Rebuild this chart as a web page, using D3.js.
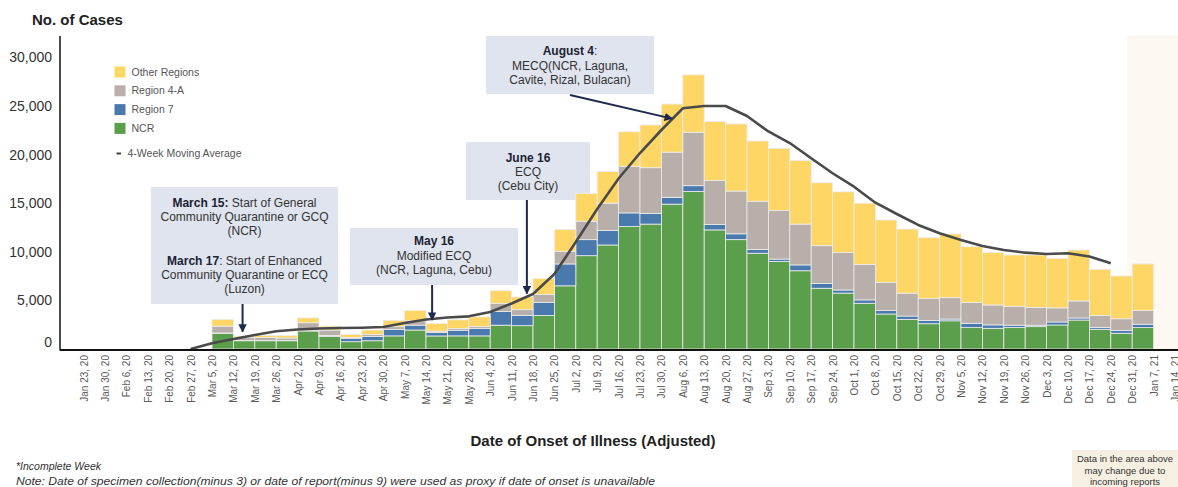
<!DOCTYPE html>
<html lang="en">
<head>
<meta charset="UTF-8">
<title>Cases by Date of Onset of Illness</title>
<script src="https://d3js.org/d3.v7.min.js"></script>
<style>
    body {
        margin: 0;
        background: #fff;
        font-family: Arial, "Liberation Sans", sans-serif;
    }
    svg { display: block; }
</style>
</head>
<body>
<div id="chart"></div>
<script>
// week labels (one per weekly bin, bar ends at its label)
const weeks = ["Jan 23, 20","Jan 30, 20","Feb 6, 20","Feb 13, 20","Feb 20, 20","Feb 27, 20","Mar 5, 20","Mar 12, 20",
    "Mar 19, 20","Mar 26, 20","Apr 2, 20","Apr 9, 20","Apr 16, 20","Apr 23, 20","Apr 30, 20","May 7, 20","May 14, 20",
    "May 21, 20","May 28, 20","Jun 4, 20","Jun 11, 20","Jun 18, 20","Jun 25, 20","Jul 2, 20","Jul 9, 20","Jul 16, 20",
    "Jul 23, 20","Jul 30, 20","Aug 6, 20","Aug 13, 20","Aug 20, 20","Aug 27, 20","Sep 3, 20","Sep 10, 20","Sep 17, 20",
    "Sep 24, 20","Oct 1, 20","Oct 8, 20","Oct 15, 20","Oct 22, 20","Oct 29, 20","Nov 5, 20","Nov 12, 20","Nov 19, 20",
    "Nov 26, 20","Dec 3, 20","Dec 10, 20","Dec 17, 20","Dec 24, 20","Dec 31, 20","Jan 7, 21","Jan 14, 21"];

const ncr = [0,0,0,0,0,0,0,1600, 850,850,850,1850,1300,750,850,1350,1950, 1340,1350,1350,2450,2400,3450,6500,9600,10700,
    12600,12850,14900,16200,12250,11250,9850,9000,8050, 6250,5750,4700,3600,3050,2600,2900,2200,2130,
    2200,2300,2470,2980,2030,1620,2200,0];
const region7 = [0,0,0,0,0,0,0,50, 20,30,30,50,100,350,450,650,500, 350,580,750,1400,1050,1350,2250,1650,1500,
    1400,1100,700,600,550,600,400,250,600, 480,320,350,350,340,340,180,450,350,
    250,150,310,210,200,280,350,0];
const region4a = [0,0,0,0,0,0,0,700, 300,300,250,800,550,100,200,300,450, 150,170,200,850,600,800,1300,1900,2800,
    4800,4700,4650,5500,4550,4400,4950,5000,4200, 3900,3850,3650,2900,2350,2250,2200,2150,2050,
    1950,1830,1450,1750,1220,1210,1400,0];
const otherRegions = [0,0,0,0,0,0,0,700, 150,200,250,500,400,300,450,650,1050, 800,900,1000,1300,1300,1650,2250,2850,3250,
    3550,4400,4950,5900,6050,6900,6200,6400,6550, 6470,6250,6300,6420,6600,6260,6550,5720,5380,
    5270,5390,5100,5245,4750,4400,4795,0];
const movingAvg = [null,null,null,null,null,0,590,1030, 1440,1820,2000,2110,2160,2190,2260,2670,3030, 3240,3360,3800,4680,5660,7720,11000,14400,17540,
    20160,22530,24760,25000,25000,23970,22380,21190,19620, 18080,16700,15050,13890,12760,11900,11210,10600,10190,
    9910,9770,9850,9520,8820,null,null,null];

const yTicks = [0, 5000, 10000, 15000, 20000, 25000, 30000];
const legendNames = ["Other Regions", "Region 4-A", "Region 7", "NCR"];

const W = 1178, H = 487;
const keys = ["ncr", "region7", "region4a", "other"];
const colors = { ncr: "#5b9f4c", region7: "#4a79ae", region4a: "#b8aeaa", other: "#fdd666" };
const legendColors = ["#fdd666", "#b8aeaa", "#4a79ae", "#5b9f4c"];

const svg = d3.select("#chart").append("svg").attr("width", W).attr("height", H)
    .style("font-family", "Arial, 'Liberation Sans', sans-serif");

const x = d3.scalePoint().domain(weeks).range([83.6, 1175]);
const step = x.step();
const y = d3.scaleLinear().domain([0, 32200]).range([349, 36]);
const xDate = (w, days) => x(w) + step * days / 7;

// shaded "incomplete" area at the right
svg.append("rect")
    .attr("x", x("Dec 31, 20") - step * 0.25).attr("y", y.range()[1] - 1)
    .attr("width", W).attr("height", y(0) - y.range()[1] + 1)
    .attr("fill", "#fdf8f1");

// annotation boxes (drawn below the bars)
const notes = [
    { box: [151, 187, 338, 304], lines: [["March 15:", " Start of General", 20], ["", "Community Quarantine or GCQ", 34], ["", "(NCR)", 47.5],
        ["March 17", ": Start of Enhanced", 77.5], ["", "Community Quarantine or ECQ", 92], ["", "(Luzon)", 106]],
      arrow: { from: 304, week: "Mar 12, 20", days: 3, value: 1780 } },
    { box: [350, 228, 518, 285], lines: [["May 16", "", 17], ["", "Modified ECQ", 31.5], ["", "(NCR, Laguna, Cebu)", 45.5]],
      arrow: { from: 285, week: "May 14, 20", days: 2, value: 2980 } },
    { box: [466, 142, 590, 200], lines: [["June 16", "", 20], ["", "ECQ", 33.5], ["", "(Cebu City)", 47.5]],
      arrow: { from: 200, week: "Jun 11, 20", days: 5, value: 5700 } },
    { box: [486, 36, 654, 94], lines: [["August 4", ":", 19], ["", "MECQ(NCR, Laguna,", 33.5], ["", "Cavite, Rizal, Bulacan)", 47.5]],
      arrow: { from: 95, fromX: 570, week: "Jul 30, 20", days: 3.5, value: 23700 } }
];

const noteG = svg.append("g");
notes.forEach(n => {
    const [x0, y0, x1, y1] = n.box;
    noteG.append("rect").attr("x", x0).attr("y", y0).attr("width", x1 - x0).attr("height", y1 - y0)
        .attr("fill", "#dfe4ee");
    n.lines.forEach(l => {
        const t = noteG.append("text").attr("x", (x0 + x1) / 2).attr("y", y0 + l[2])
            .attr("text-anchor", "middle").attr("font-size", 12);
        if (l[0]) t.append("tspan").attr("font-weight", "bold").attr("fill", "#1c2233").text(l[0]);
        if (l[1]) t.append("tspan").attr("fill", "#333").text(l[1]);
    });
});

// stacked bars
const rows = weeks.map((w, i) => ({ week: w, ncr: ncr[i], region7: region7[i], region4a: region4a[i], other: otherRegions[i] }));
const stacked = d3.stack().keys(keys)(rows);

svg.append("g").selectAll("g").data(stacked).join("g")
    .attr("fill", s => colors[s.key])
    .selectAll("rect").data(s => s.filter(d => d[1] > d[0])).join("rect")
    .attr("x", d => x(d.data.week) - step)
    .attr("y", d => y(d[1]))
    .attr("width", step)
    .attr("height", d => y(d[0]) - y(d[1]))
    .attr("stroke", "#ececec").attr("stroke-width", 0.8);

// 4-week moving average
const maPts = weeks.map((w, i) => ({ week: w, v: movingAvg[i] }));
svg.append("path").datum(maPts)
    .attr("fill", "none").attr("stroke", "#4a4a4a").attr("stroke-width", 2.6)
    .attr("stroke-linejoin", "round")
    .attr("d", d3.line().defined(d => d.v != null).x(d => x(d.week)).y(d => y(d.v)));

// arrows
svg.append("defs").append("marker")
    .attr("id", "head").attr("viewBox", "0 0 10 10").attr("refX", 9).attr("refY", 5)
    .attr("markerWidth", 4.2).attr("markerHeight", 4.2).attr("orient", "auto")
    .append("path").attr("d", "M0,0L10,5L0,10z").attr("fill", "#1d2a4d");

notes.forEach(n => {
    const a = n.arrow;
    const tx = xDate(a.week, a.days);
    svg.append("line")
        .attr("x1", a.fromX != null ? a.fromX : tx).attr("y1", a.from)
        .attr("x2", tx).attr("y2", y(a.value))
        .attr("stroke", "#1d2a4d").attr("stroke-width", 2)
        .attr("marker-end", "url(#head)");
});

// axes
const yAxis = svg.append("g").attr("transform", "translate(60,0)")
    .call(d3.axisLeft(y).tickValues(yTicks).tickSize(0).tickPadding(8).tickFormat(d3.format(",")));
yAxis.select(".domain").remove();
yAxis.selectAll("text").attr("font-size", 14).attr("fill", "#333")
    .attr("font-family", "Arial, 'Liberation Sans', sans-serif")
    .attr("dy", d => d === 0 ? "-0.15em" : "0.32em");

svg.append("line").attr("x1", 60).attr("x2", 60).attr("y1", y.range()[1]).attr("y2", y(0) + 1.5)
    .attr("stroke", "#111").attr("stroke-width", 1.5);

const xAxis = svg.append("g").attr("transform", `translate(0,${y(0) + 2})`)
    .call(d3.axisBottom(x).tickSize(0));
xAxis.select(".domain").remove();
xAxis.selectAll("text")
    .attr("transform", "rotate(-90)")
    .attr("text-anchor", "end")
    .attr("x", -4).attr("y", 0).attr("dy", "0.35em")
    .attr("font-size", 10).attr("fill", "#5a5a5a")
    .attr("font-family", "Arial, 'Liberation Sans', sans-serif");

svg.append("line").attr("x1", 60).attr("x2", W).attr("y1", y(0) + 1).attr("y2", y(0) + 1)
    .attr("stroke", "#111").attr("stroke-width", 2);

// titles
svg.append("text").attr("x", 32).attr("y", 24.5).attr("font-size", 15).attr("font-weight", "bold")
    .attr("fill", "#222").text("No. of Cases");
svg.append("text").attr("x", 593).attr("y", 446).attr("text-anchor", "middle")
    .attr("font-size", 15).attr("font-weight", "bold").attr("fill", "#222")
    .text("Date of Onset of Illness (Adjusted)");

// legend
const lg = svg.append("g");
legendNames.forEach((name, i) => {
    const cy = 72 + i * 18.8;
    lg.append("rect").attr("x", 114.5).attr("y", cy - 5.5).attr("width", 11).attr("height", 11).attr("fill", legendColors[i]);
    lg.append("text").attr("x", 131.5).attr("y", cy).attr("dy", "0.35em")
        .attr("font-size", 10.5).attr("fill", "#555").text(name);
});
lg.append("line").attr("x1", 116.5).attr("x2", 121).attr("y1", 153.5).attr("y2", 153.5)
    .attr("stroke", "#444").attr("stroke-width", 2);
lg.append("text").attr("x", 127.5).attr("y", 153.5).attr("dy", "0.35em")
    .attr("font-size", 10.5).attr("fill", "#555").text("4-Week Moving Average");

// footnotes
svg.append("text").attr("x", 16).attr("y", 470).attr("font-size", 10.5).attr("font-style", "italic")
    .attr("fill", "#333").text("*Incomplete Week");
svg.append("text").attr("x", 16).attr("y", 485).attr("font-size", 11.5).attr("font-style", "italic")
    .attr("fill", "#333").attr("textLength", 639).attr("lengthAdjust", "spacingAndGlyphs")
    .text("Note: Date of specimen collection(minus 3) or date of report(minus 9) were used as proxy if date of onset is unavailable");

svg.append("rect").attr("x", 1072).attr("y", 450).attr("width", W - 1072).attr("height", H - 450)
    .attr("fill", "#f6f0e2");
["Data in the area above", "may change due to", "incoming reports"].forEach((t, i) => {
    svg.append("text").attr("x", 1125).attr("y", 462 + i * 11.5).attr("text-anchor", "middle")
        .attr("font-size", 9.5).attr("fill", "#333").text(t);
});
</script>
</body>
</html>
